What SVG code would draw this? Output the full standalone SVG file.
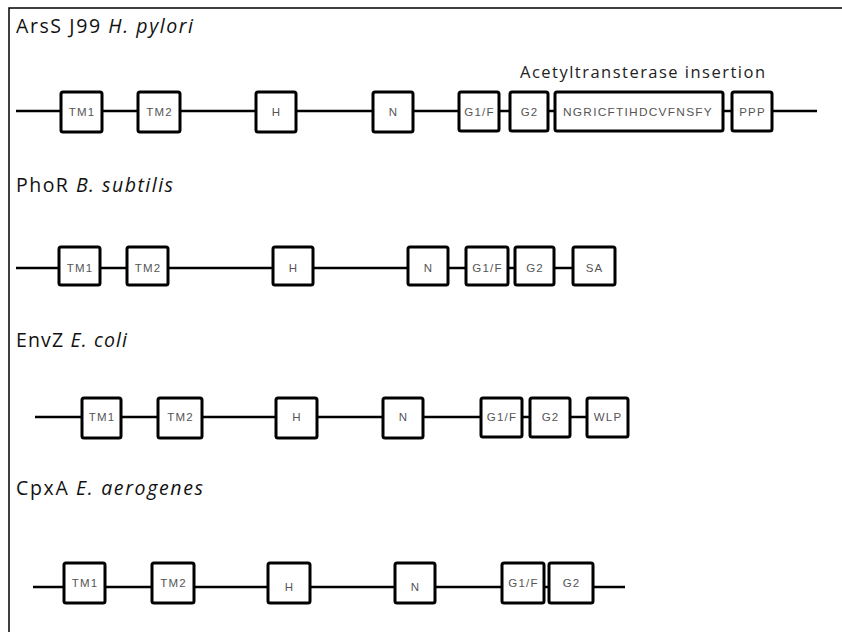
<svg xmlns="http://www.w3.org/2000/svg" width="842" height="632" viewBox="0 0 842 632">
<style>
.frame{stroke:#000;stroke-width:1.5;fill:none}
.conn{stroke:#000;stroke-width:2.5;fill:none}
.box{fill:#fff;stroke:#000;stroke-width:3}
.lbl{font-family:"Liberation Sans",Arial,sans-serif;font-size:11.5px;letter-spacing:1.2px;fill:#555;text-anchor:middle}
.title{font-family:"Open Sans","Liberation Sans",sans-serif;font-size:19.5px;fill:#111}
.note{font-family:"Open Sans","Liberation Sans",sans-serif;font-size:16.5px;fill:#222}
</style>
<rect width="842" height="632" fill="#fff"/>
<path class="frame" d="M9,632 V8 H842"/>
<g id="titles">
<text class="title" x="16" y="33" textLength="177">ArsS J99 <tspan font-style="italic">H. pylori</tspan></text>
<text class="title" x="16" y="192" textLength="157">PhoR <tspan font-style="italic">B. subtilis</tspan></text>
<text class="title" x="16" y="347" textLength="111">EnvZ <tspan font-style="italic">E. coli</tspan></text>
<text class="title" x="16" y="495" textLength="187">CpxA <tspan font-style="italic">E. aerogenes</tspan></text>
<text class="note" x="520" y="78" textLength="245">Acetyltransterase insertion</text>
</g>
<g id="connectors">
<line class="conn" x1="16" y1="111" x2="817" y2="111"/>
<line class="conn" x1="16" y1="268" x2="573" y2="268"/>
<line class="conn" x1="35" y1="417" x2="587" y2="417"/>
<line class="conn" x1="33" y1="587" x2="625" y2="587"/>
</g>
<g id="arss">
<g id="arss-tm1"><rect class="box" x="61" y="92" width="41" height="40" rx="2"/><text class="lbl" x="82" y="116">TM1</text></g>
<g id="arss-tm2"><rect class="box" x="138" y="92" width="42" height="40" rx="2"/><text class="lbl" x="159.5" y="116">TM2</text></g>
<g id="arss-h"><rect class="box" x="256" y="92" width="40" height="40" rx="2"/><text class="lbl" x="276.5" y="116">H</text></g>
<g id="arss-n"><rect class="box" x="373" y="92" width="40" height="40" rx="2"/><text class="lbl" x="393.5" y="116">N</text></g>
<g id="arss-g1f"><rect class="box" x="459" y="92" width="40" height="39" rx="2"/><text class="lbl" x="479.5" y="116">G1/F</text></g>
<g id="arss-g2"><rect class="box" x="510" y="92" width="38" height="39" rx="2"/><text class="lbl" x="529.5" y="116">G2</text></g>
<g id="arss-ins"><rect class="box" x="555" y="92" width="168" height="39" rx="2"/><text class="lbl" x="638" y="116" textLength="150" lengthAdjust="spacingAndGlyphs">NGRICFTIHDCVFNSFY</text></g>
<g id="arss-ppp"><rect class="box" x="732" y="92" width="40" height="39" rx="2"/><text class="lbl" x="752.5" y="116">PPP</text></g>
</g>
<g id="phor">
<g id="phor-tm1"><rect class="box" x="59" y="247" width="41" height="38" rx="2"/><text class="lbl" x="80" y="272">TM1</text></g>
<g id="phor-tm2"><rect class="box" x="127" y="247" width="41" height="38" rx="2"/><text class="lbl" x="148" y="272">TM2</text></g>
<g id="phor-h"><rect class="box" x="273" y="247" width="40" height="38" rx="2"/><text class="lbl" x="293.5" y="272">H</text></g>
<g id="phor-n"><rect class="box" x="408" y="247" width="40" height="38" rx="2"/><text class="lbl" x="428.5" y="272">N</text></g>
<g id="phor-g1f"><rect class="box" x="466" y="247" width="42" height="38" rx="2"/><text class="lbl" x="487.5" y="272">G1/F</text></g>
<g id="phor-g2"><rect class="box" x="515" y="247" width="39" height="38" rx="2"/><text class="lbl" x="535" y="272">G2</text></g>
<g id="phor-sa"><rect class="box" x="573" y="247" width="42" height="38" rx="2"/><text class="lbl" x="594.5" y="272">SA</text></g>
</g>
<g id="envz">
<g id="envz-tm1"><rect class="box" x="82" y="398" width="39" height="40" rx="2"/><text class="lbl" x="102" y="421">TM1</text></g>
<g id="envz-tm2"><rect class="box" x="158" y="398" width="44" height="40" rx="2"/><text class="lbl" x="180.5" y="421">TM2</text></g>
<g id="envz-h"><rect class="box" x="276" y="398" width="41" height="40" rx="2"/><text class="lbl" x="297" y="421">H</text></g>
<g id="envz-n"><rect class="box" x="383" y="398" width="40" height="40" rx="2"/><text class="lbl" x="403.5" y="421">N</text></g>
<g id="envz-g1f"><rect class="box" x="481" y="398" width="41" height="39" rx="2"/><text class="lbl" x="502" y="421">G1/F</text></g>
<g id="envz-g2"><rect class="box" x="530" y="398" width="40" height="39" rx="2"/><text class="lbl" x="550.5" y="421">G2</text></g>
<g id="envz-wlp"><rect class="box" x="587" y="398" width="41" height="39" rx="2"/><text class="lbl" x="608" y="421">WLP</text></g>
</g>
<g id="cpxa">
<g id="cpxa-tm1"><rect class="box" x="64" y="563" width="41" height="40" rx="2"/><text class="lbl" x="85" y="587">TM1</text></g>
<g id="cpxa-tm2"><rect class="box" x="152" y="563" width="42" height="40" rx="2"/><text class="lbl" x="173.5" y="587">TM2</text></g>
<g id="cpxa-h"><rect class="box" x="268" y="563" width="42" height="40" rx="2"/><text class="lbl" x="289.5" y="591">H</text></g>
<g id="cpxa-n"><rect class="box" x="395" y="563" width="40" height="40" rx="2"/><text class="lbl" x="415.5" y="591">N</text></g>
<g id="cpxa-g1f"><rect class="box" x="502" y="563" width="42" height="40" rx="2"/><text class="lbl" x="523.5" y="587">G1/F</text></g>
<g id="cpxa-g2"><rect class="box" x="549" y="563" width="44" height="40" rx="2"/><text class="lbl" x="571.5" y="587">G2</text></g>
</g>
</svg>
